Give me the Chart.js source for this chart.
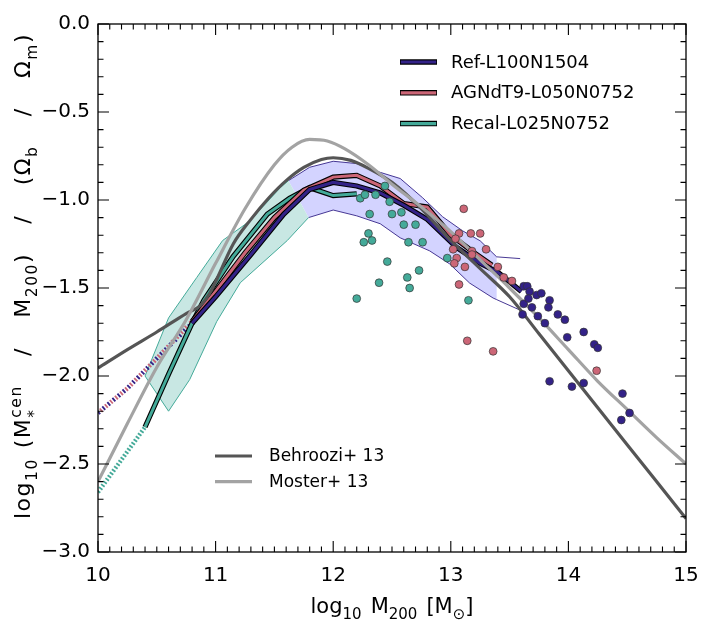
<!DOCTYPE html>
<html>
<head>
<meta charset="utf-8">
<script src="https://cdn.jsdelivr.net/npm/chart.js@4.4.1/dist/chart.umd.min.js"></script>
<style>
  html, body { margin: 0; padding: 0; background: #fff; }
  canvas { display: block; }
</style>
</head>
<body>
<canvas id="chart" width="728" height="629"></canvas>
<script>
// x: log10 M200 [Msun], y: log10 (M*cen / M200) / (Omega_b / Omega_m)
const xTicks = [10, 11, 12, 13, 14, 15];
const yTicks = [0, -0.5, -1, -1.5, -2, -2.5, -3];

const simNames = ['Ref-L100N1504', 'AGNdT9-L050N0752', 'Recal-L025N0752'];
const obsNames = ['Behroozi+ 13', 'Moster+ 13'];

// abundance matching relations
const behroozi = [[10.0,-1.955],[10.25,-1.85],[10.5,-1.75],[10.75,-1.645],[10.87,-1.60],[10.95,-1.53],[11.01,-1.45],[11.15,-1.25],[11.3,-1.11],[11.45,-0.99],[11.6,-0.89],[11.75,-0.815],[11.9,-0.77],[12.0,-0.76],[12.15,-0.775],[12.3,-0.82],[12.5,-0.90],[12.75,-1.05],[13.0,-1.23],[13.25,-1.39],[13.5,-1.55],[13.75,-1.76],[14.0,-1.97],[14.25,-2.18],[14.5,-2.39],[14.75,-2.6],[15.0,-2.81]];
const moster = [[10.0,-2.60],[10.25,-2.27],[10.5,-1.95],[10.75,-1.68],[11.0,-1.36],[11.25,-1.05],[11.5,-0.80],[11.65,-0.70],[11.8,-0.656],[11.95,-0.665],[12.1,-0.71],[12.3,-0.80],[12.5,-0.91],[12.75,-1.04],[13.0,-1.18],[13.25,-1.34],[13.5,-1.50],[13.75,-1.67],[14.0,-1.85],[14.25,-2.03],[14.5,-2.19],[14.75,-2.35],[15.0,-2.50]];

// simulation medians (dotted = below resolution limit)
const refDotted = [[10.0,-2.21],[10.25,-2.07],[10.5,-1.90],[10.8,-1.70]];
const refSolid = [[10.8,-1.70],[11.0,-1.55],[11.3,-1.31],[11.58,-1.08],[11.8,-0.94],[12.0,-0.90],[12.2,-0.92],[12.4,-0.96],[12.6,-1.03],[12.8,-1.11],[13.05,-1.27],[13.25,-1.36],[13.4,-1.41],[13.6,-1.52]];
const agnDotted = [[10.0,-2.21],[10.25,-2.07],[10.5,-1.90],[10.8,-1.69]];
const agnSolid = [[10.8,-1.69],[11.0,-1.52],[11.25,-1.30],[11.5,-1.10],[11.75,-0.945],[12.0,-0.87],[12.2,-0.86],[12.4,-0.92],[12.6,-1.02],[12.8,-1.04],[13.0,-1.20],[13.2,-1.30],[13.35,-1.37]];
const recalDotted = [[10.0,-2.66],[10.2,-2.475],[10.4,-2.29]];
const recalSolid = [[10.4,-2.29],[10.6,-1.99],[10.8,-1.70],[10.9,-1.57],[11.15,-1.32],[11.44,-1.08],[11.63,-0.99],[11.8,-0.93],[12.0,-0.975],[12.2,-0.965]];

// scatter bands
const refBandHi = [[11.62,-0.89],[11.80,-0.814],[12.0,-0.78],[12.2,-0.793],[12.4,-0.843],[12.57,-0.878],[12.76,-0.987],[12.93,-1.095],[13.1,-1.175],[13.25,-1.232],[13.39,-1.323]];
const refBandLo = [[11.79,-1.10],[12.0,-1.057],[12.2,-1.09],[12.4,-1.135],[12.57,-1.215],[12.82,-1.289],[12.99,-1.363],[13.16,-1.472],[13.36,-1.557],[13.39,-1.566]];
const refHiTail = [[13.39,-1.323],[13.59,-1.333]];
const refLoTail = [[13.39,-1.566],[13.59,-1.626]];
const recalBandHi = [[10.40,-2.00],[10.60,-1.67],[10.84,-1.44],[11.06,-1.23],[11.29,-1.12],[11.55,-0.93],[11.62,-0.89]];
const recalBandLo = [[10.60,-2.20],[10.78,-2.02],[11.01,-1.69],[11.21,-1.47],[11.61,-1.23],[11.79,-1.10]];

// individual haloes
const recalDots = [[12.23,-0.99],[12.27,-0.97],[12.36,-0.97],[12.44,-0.92],[12.48,-1.01],[12.50,-1.08],[12.58,-1.07],[12.31,-1.08],[12.60,-1.14],[12.70,-1.14],[12.30,-1.19],[12.26,-1.24],[12.33,-1.23],[12.64,-1.24],[12.76,-1.24],[12.46,-1.35],[12.73,-1.40],[12.63,-1.44],[12.65,-1.50],[12.39,-1.47],[12.20,-1.56],[12.97,-1.33],[13.15,-1.57]];
const agnDots = [[13.11,-1.05],[13.07,-1.19],[13.17,-1.19],[13.25,-1.19],[13.04,-1.22],[13.30,-1.28],[13.02,-1.28],[13.18,-1.29],[13.18,-1.31],[13.05,-1.33],[13.03,-1.36],[13.12,-1.38],[13.40,-1.38],[13.45,-1.44],[13.52,-1.46],[13.07,-1.48],[13.14,-1.80],[13.36,-1.86],[14.24,-1.97]];
const refDots = [[13.62,-1.49],[13.65,-1.49],[13.67,-1.52],[13.62,-1.59],[13.66,-1.56],[13.61,-1.65],[13.69,-1.61],[13.73,-1.54],[13.77,-1.53],[13.74,-1.66],[13.80,-1.70],[13.84,-1.57],[13.83,-1.61],[13.91,-1.65],[13.97,-1.68],[13.99,-1.78],[14.13,-1.75],[14.22,-1.82],[14.25,-1.84],[13.84,-2.03],[14.03,-2.06],[14.13,-2.04],[14.46,-2.10],[14.52,-2.21],[14.45,-2.25]];

const FONT = '"DejaVu Sans", sans-serif';
const INDIGO = '#332288', ROSE = '#cc6677', TEAL = '#44aa99';
const DGRAY = '#555555', LGRAY = '#a3a3a3';

const P = a => a.map(([x, y]) => ({x, y}));
function line(data, color, width, order, extra) {
  return Object.assign({
    data: P(data), borderColor: color, borderWidth: width, pointRadius: 0,
    fill: false, tension: 0, order
  }, extra || {});
}
function dots(data, color, order) {
  return {
    data: P(data), showLine: false, order,
    pointRadius: 3.9, pointHoverRadius: 3.9,
    pointBackgroundColor: color, pointBorderColor: '#333', pointBorderWidth: 0.7
  };
}

// rich text with sub/superscripts
function rich(ctx, parts, x, y, big, small, flex, draw) {
  let cx = x;
  const setF = s => { ctx.font = s + 'px ' + FONT; };
  for (const [k, a, b] of parts) {
    if (k === 'sp') { cx += a; continue; }
    if (k === 'fl') { cx += flex; continue; }
    if (k === 'n') {
      setF(big);
      if (draw) ctx.fillText(a, cx, y);
      cx += ctx.measureText(a).width;
    } else if (k === 'sub') {
      setF(small);
      if (draw) ctx.fillText(a, cx, y + big * 0.3);
      cx += ctx.measureText(a).width;
    } else if (k === 'ss') {
      setF(small);
      if (draw) { ctx.fillText(a, cx, y - big * 0.42); ctx.fillText(b, cx, y + big * 0.42); }
      cx += Math.max(ctx.measureText(a).width, ctx.measureText(b).width);
    }
  }
  return cx - x;
}

const yTitle = [['n','log'],['sub','10'],['sp',10],['n','(M'],['ss','cen','*'],['fl'],['n','/'],['fl'],['n','M'],['sub','200'],['n',')'],['fl'],['n','/'],['fl'],['n','(Ω'],['sub','b'],['fl'],['n','/'],['fl'],['n','Ω'],['sub','m'],['n',')']];
const xTitle = [['n','log'],['sub','10'],['sp',9],['n','M'],['sub','200'],['sp',9],['n','[M'],['sub','⊙'],['n',']']];

const decor = {
  id: 'decor',
  afterDatasetsDraw(chart) {
    const {ctx, chartArea: a, scales: {x, y}} = chart;
    ctx.save();
    // frame + inward ticks on all sides
    ctx.strokeStyle = '#000';
    ctx.lineWidth = 1.3;
    ctx.strokeRect(a.left, a.top, a.right - a.left, a.bottom - a.top);
    ctx.lineWidth = 1.1;
    ctx.beginPath();
    for (let i = 0; i <= 50; i++) {
      const px = x.getPixelForValue(10 + i / 10);
      const len = i % 10 === 0 ? 11 : 5.5;
      ctx.moveTo(px, a.bottom); ctx.lineTo(px, a.bottom - len);
      ctx.moveTo(px, a.top); ctx.lineTo(px, a.top + len);
    }
    for (let i = 0; i <= 30; i++) {
      const py = y.getPixelForValue(-i / 10);
      const len = i % 5 === 0 ? 11 : 5.5;
      ctx.moveTo(a.left, py); ctx.lineTo(a.left + len, py);
      ctx.moveTo(a.right, py); ctx.lineTo(a.right - len, py);
    }
    ctx.stroke();

    // legends
    const sample = (x0, yy, col, outline) => {
      ctx.lineCap = 'butt';
      if (outline) {
        ctx.strokeStyle = '#000'; ctx.lineWidth = 5.5;
        ctx.beginPath(); ctx.moveTo(x0, yy); ctx.lineTo(x0 + 37, yy); ctx.stroke();
      }
      ctx.strokeStyle = col; ctx.lineWidth = 3.2;
      ctx.beginPath(); ctx.moveTo(x0 + (outline ? 0.8 : 0), yy); ctx.lineTo(x0 + 37 - (outline ? 0.8 : 0), yy); ctx.stroke();
    };
    ctx.fillStyle = '#000';
    ctx.textBaseline = 'middle';
    ctx.textAlign = 'left';
    ctx.font = '18px ' + FONT;
    [INDIGO, ROSE, TEAL].forEach((c, i) => {
      const yy = 62 + i * 30.8;
      sample(400, yy, c, true);
      ctx.fillText(simNames[i], 451, yy + 1);
    });
    ctx.font = '17px ' + FONT;
    [DGRAY, LGRAY].forEach((c, i) => {
      const yy = 456 + i * 25.7;
      sample(215, yy, c, false);
      ctx.fillText(obsNames[i], 269, yy + 1);
    });

    // axis titles
    ctx.textBaseline = 'alphabetic';
    const xw = rich(ctx, xTitle, 0, 0, 21, 15, 0, false);
    rich(ctx, xTitle, (a.left + a.right) / 2 - xw / 2, 613, 21, 15, 0, true);
    ctx.letterSpacing = '1.5px';
    const nat = rich(ctx, yTitle, 0, 0, 22, 15.5, 0, false);
    const flex = (486 - nat) / 6;
    ctx.translate(30, 276 + 243);
    ctx.rotate(-Math.PI / 2);
    rich(ctx, yTitle, 0, 0, 22, 15.5, flex, true);
    ctx.restore();
  }
};

const fmtY = v => v === 0 ? '0.0' : '\u2212' + Math.abs(v).toFixed(1);

new Chart(document.getElementById('chart'), {
  type: 'line',
  data: {
    datasets: [
      dots(refDots, INDIGO, 1),
      dots(agnDots, ROSE, 2),
      dots(recalDots, TEAL, 3),
      line(moster, LGRAY, 3.2, 4, {cubicInterpolationMode: 'monotone'}),
      line(behroozi, DGRAY, 3.2, 5, {cubicInterpolationMode: 'monotone'}),
      line(refSolid, INDIGO, 3, 6),
      line(refSolid, '#000', 5.2, 7),
      line(agnSolid, ROSE, 3, 8),
      line(agnSolid, '#000', 5.2, 9),
      line(recalSolid, TEAL, 3, 10),
      line(recalSolid, '#000', 5.2, 11),
      line(refDotted, INDIGO, 4.6, 12, {borderDash: [1.8, 4.8]}),
      line(agnDotted, ROSE, 4.6, 13, {borderDash: [1.8, 4.8], borderDashOffset: -3.3}),
      line(recalDotted, TEAL, 4.4, 14, {borderDash: [1.8, 1.9]}),
      line(recalBandHi, TEAL, 1, 15),
      line([recalBandHi[0]].concat(recalBandLo), TEAL, 1, 15),
      line(recalBandHi.concat(recalBandLo.slice().reverse()), 'rgba(0,0,0,0)', 0, 16,
        {fill: 'shape', backgroundColor: '#c8e7e3'}),
      line(refBandHi.concat(refHiTail.slice(1)), INDIGO, 0.9, 17),
      line(refBandLo.concat(refLoTail.slice(1)), INDIGO, 0.9, 17),
      line(refBandHi.concat(refBandLo.slice().reverse()), 'rgba(0,0,0,0)', 0, 18,
        {fill: 'shape', backgroundColor: '#d3d3ff'})
    ]
  },
  options: {
    responsive: false,
    animation: false,
    devicePixelRatio: 1,
    events: [],
    layout: {padding: {top: 24, right: 42, bottom: 0, left: 0}},
    plugins: {legend: {display: false}, tooltip: {enabled: false}},
    scales: {
      x: {
        type: 'linear', min: 10, max: 15,
        afterFit: s => { s.height = 629 - 552; },
        afterBuildTicks: s => { s.ticks = xTicks.map(v => ({value: v})); },
        ticks: {font: {family: FONT, size: 20}, color: '#000', padding: 12, maxRotation: 0,
          callback: v => String(v)},
        grid: {display: false, drawTicks: false},
        border: {display: false}
      },
      y: {
        type: 'linear', min: -3, max: 0,
        afterFit: s => { s.width = 98; },
        afterBuildTicks: s => { s.ticks = yTicks.map(v => ({value: v})); },
        ticks: {font: {family: FONT, size: 20}, color: '#000', padding: 8, callback: fmtY},
        grid: {display: false, drawTicks: false},
        border: {display: false}
      }
    }
  },
  plugins: [decor]
});
</script>
</body>
</html>
